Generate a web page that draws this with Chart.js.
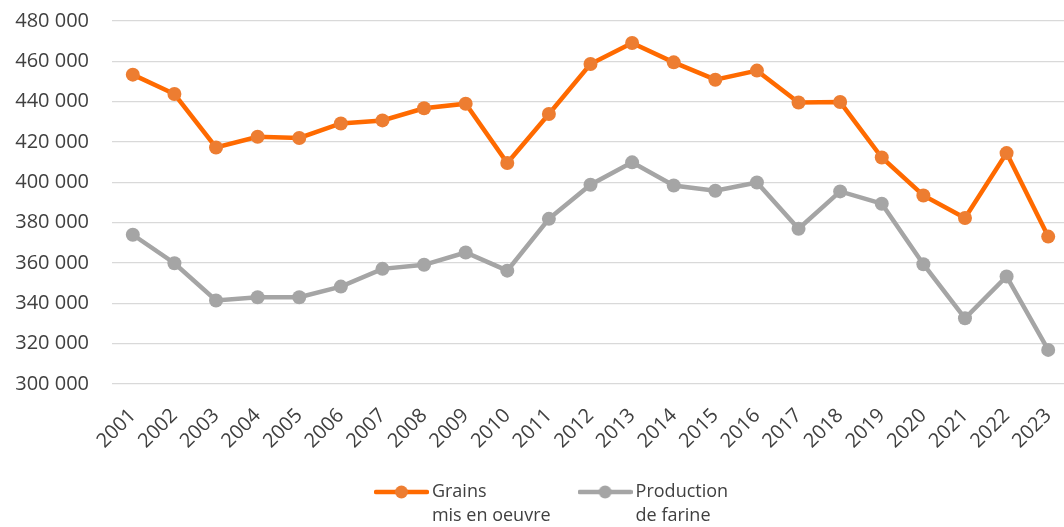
<!DOCTYPE html>
<html>
<head>
<meta charset="utf-8">
<script src="https://cdn.jsdelivr.net/npm/chart.js@4.4.1/dist/chart.umd.min.js"></script>
<style>
  html, body { margin: 0; padding: 0; background: #ffffff; overflow: hidden; }
  #outer { position: relative; width: 1064px; height: 527px; overflow: hidden; }
  #wrap { position: absolute; left: 0; top: 0; width: 1076px; height: 527px; }
</style>
</head>
<body>
<div id="outer"><div id="wrap"><canvas id="c"></canvas></div></div>
<script>
const years = ['2001','2002','2003','2004','2005','2006','2007','2008','2009','2010','2011','2012','2013','2014','2015','2016','2017','2018','2019','2020','2021','2022','2023'];
const grains = [453400, 443800, 417300, 422600, 422000, 429200, 430700, 436700, 439000, 409600, 433900, 458700, 469100, 459500, 450900, 455400, 439600, 439800, 412300, 393500, 382300, 414500, 373100];
const farine = [374000, 359900, 341400, 343000, 343000, 348300, 357100, 359100, 365200, 356200, 381900, 398800, 409900, 398400, 395800, 399900, 377000, 395500, 389400, 359400, 332600, 353300, 316900];
const grainsLabel = ['Grains', 'mis en oeuvre'];
const farineLabel = ['Production', 'de farine'];
const yMin = 300000, yMax = 480000, yStep = 20000;

const orangeLine = '#FF6A00', orangeDot = '#ED7D31';
const grayLine = '#A5A5A5', grayDot = '#A5A5A5';

function makeIcon(lineColor, dotColor) {
  const c = document.createElement('canvas');
  c.width = 55; c.height = 16;
  const x = c.getContext('2d');
  x.strokeStyle = lineColor; x.lineWidth = 4.5; x.lineCap = 'round';
  x.beginPath(); x.moveTo(2, 8); x.lineTo(53, 8); x.stroke();
  x.fillStyle = dotColor;
  x.beginPath(); x.arc(27.5, 8, 6.5, 0, Math.PI * 2); x.fill();
  return c;
}
const icons = [makeIcon(orangeLine, orangeDot), makeIcon(grayLine, grayDot)];

// multi-line legend text whose measured width is its longest line
function multiLine(lines) {
  const t = lines.slice();
  const longest = lines.reduce((a, b) => (a.length >= b.length ? a : b));
  t.toString = () => longest;
  return t;
}

function fmt(v) { return String(v).replace(/\B(?=(\d{3})+(?!\d))/g, ' '); }

// centre the legend like the original and let its second text line show
const legendTweak = {
  id: 'legendTweak',
  afterLayout(chart) {
    const lg = chart.legend;
    if (lg) { lg.left += 16.5; lg.right += 16.5; lg.top -= 6; lg.bottom += 16; lg.height += 22; }
  }
};

const textColor = '#404040';
new Chart(document.getElementById('c'), {
  type: 'line',
  data: {
    labels: years,
    datasets: [
      { label: grainsLabel, data: grains, borderColor: orangeLine, backgroundColor: orangeDot,
        pointBackgroundColor: orangeDot, pointBorderColor: orangeDot, borderWidth: 4.5,
        pointRadius: 7, pointHoverRadius: 7, pointBorderWidth: 0, tension: 0 },
      { label: farineLabel, data: farine, borderColor: grayLine, backgroundColor: grayDot,
        pointBackgroundColor: grayDot, pointBorderColor: grayDot, borderWidth: 4.5,
        pointRadius: 7, pointHoverRadius: 7, pointBorderWidth: 0, tension: 0 }
    ]
  },
  plugins: [legendTweak],
  options: {
    responsive: true,
    maintainAspectRatio: false,
    animation: false,
    layout: { padding: { left: 0, right: 1, top: 21, bottom: 10 } },
    plugins: {
      tooltip: { enabled: false },
      legend: {
        position: 'bottom',
        labels: {
          usePointStyle: true,
          pointStyleWidth: 43,
          padding: 33,
          color: textColor,
          font: { family: 'Open Sans', size: 18, lineHeight: 1.33 },
          generateLabels: (chart) => chart.data.datasets.map((ds, i) => ({
            text: multiLine(ds.label), pointStyle: icons[i], datasetIndex: i, hidden: false,
            lineWidth: 0, strokeStyle: 'rgba(0,0,0,0)', fillStyle: 'rgba(0,0,0,0)', fontColor: textColor
          }))
        }
      }
    },
    scales: {
      x: {
        offset: true,
        afterFit: (s) => { s.height = 72; s.paddingLeft = 0; s.paddingRight = 0; },
        grid: { display: false, drawTicks: false },
        border: { display: false },
        ticks: { color: textColor, font: { family: 'Open Sans', size: 20 }, minRotation: 45, maxRotation: 45, padding: 20, autoSkip: false }
      },
      y: {
        min: yMin, max: yMax,
        afterFit: (s) => { s.width = 112; s.paddingTop = 0; s.paddingBottom = 0; },
        grid: { color: '#D9D9D9', lineWidth: 1.3, drawTicks: false },
        border: { display: false },
        ticks: { stepSize: yStep, color: textColor, font: { family: 'Open Sans', size: 20 }, padding: 23, callback: (v) => fmt(v) }
      }
    }
  }
});
</script>
</body>
</html>
